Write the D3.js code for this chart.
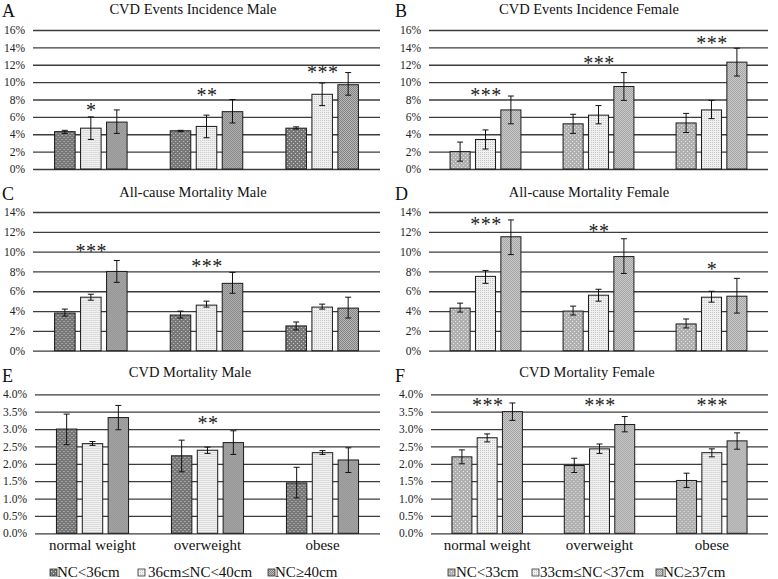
<!DOCTYPE html>
<html><head><meta charset="utf-8">
<script src="https://cdn.jsdelivr.net/npm/d3@7"></script>
<style>body{margin:0;background:#fff}svg{display:block}</style>
</head><body><svg id="c" width="778" height="579"></svg>
<script>
const categories = ["normal weight","overweight","obese"];
const maleGroups = ["NC<36cm","36cm≤NC<40cm","NC≥40cm"];
const femaleGroups = ["NC<33cm","33cm≤NC<37cm","NC≥37cm"];

const ticks16 = [0,2,4,6,8,10,12,14,16];
const ticks14 = [0,2,4,6,8,10,12,14];
const ticks4 = [0,0.5,1,1.5,2,2.5,3,3.5,4];

// A: CVD events incidence, male (rows = categories, cols = NC groups), %
const aValues = [[4.3,4.7,5.4],[4.4,4.9,6.6],[4.7,8.6,9.7]];
const aLow    = [[4.1,3.4,4.1],[4.3,3.6,5.3],[4.6,7.3,8.5]];
const aHigh   = [[4.45,6.0,6.8],[4.45,6.2,8.0],[4.85,9.9,11.1]];
const aStars  = ["*","**","***"];
const aStarAt = [7.1,8.8,11.4];

// B: CVD events incidence, female
const bValues = [[2.0,3.4,6.8],[5.2,6.2,9.5],[5.3,6.8,12.3]];
const bLow    = [[0.9,2.3,5.2],[4.1,5.2,7.9],[4.2,5.8,10.7]];
const bHigh   = [[3.1,4.5,8.4],[6.3,7.3,11.1],[6.4,7.9,13.9]];
const bStars  = ["***","***","***"];
const bStarAt = [8.8,12.5,14.8];

// C: all-cause mortality, male
const cValues = [[3.8,5.4,8.0],[3.6,4.6,6.8],[2.5,4.4,4.3]];
const cLow    = [[3.5,5.1,6.9],[3.3,4.4,5.8],[2.1,4.2,3.3]];
const cHigh   = [[4.2,5.7,9.1],[4.0,5.0,7.9],[2.9,4.7,5.4]];
const cStars  = ["***","***",""];
const cStarAt = [10.35,8.8,0];

// D: all-cause mortality, female
const dValues = [[4.3,7.5,11.5],[4.0,5.6,9.5],[2.7,5.4,5.5]];
const dLow    = [[3.9,6.8,9.7],[3.6,5.0,7.8],[2.3,4.9,3.8]];
const dHigh   = [[4.8,8.1,13.2],[4.5,6.2,11.3],[3.2,6.0,7.3]];
const dStars  = ["***","**","*"];
const dStarAt = [13.05,12.35,8.45];

// E: CVD mortality, male
const eValues = [[3.0,2.58,3.33],[2.23,2.39,2.61],[1.45,2.32,2.11]];
const eLow    = [[2.55,2.53,2.98],[1.77,2.30,2.27],[1.02,2.27,1.75]];
const eHigh   = [[3.43,2.64,3.68],[2.68,2.48,2.95],[1.90,2.38,2.46]];
const eStars  = ["","**",""];
const eStarAt = [0,3.26,0];

// F: CVD mortality, female
const fValues = [[2.2,2.75,3.5],[1.95,2.43,3.13],[1.52,2.32,2.66]];
const fLow    = [[2.0,2.63,3.25],[1.75,2.30,2.92],[1.32,2.20,2.42]];
const fHigh   = [[2.4,2.86,3.75],[2.16,2.57,3.36],[1.73,2.43,2.89]];
const fStars  = ["***","***","***"];
const fStarAt = [3.76,3.76,3.76];

const FONT = "'Liberation Serif', 'Times New Roman', Tinos, 'DejaVu Serif', serif";

const svg = d3.select("#c").attr("font-family", FONT);
const defs = svg.append("defs");
function tile(id, size, bg, dots, fg) {
  const p = defs.append("pattern").attr("id", id).attr("width", size).attr("height", size)
    .attr("patternUnits", "userSpaceOnUse");
  p.append("rect").attr("width", size).attr("height", size).attr("fill", bg);
  dots.forEach(([dx, dy]) => p.append("rect").attr("x", dx).attr("y", dy)
    .attr("width", 1).attr("height", 1).attr("fill", fg));
}
tile("m1", 4, "#767676", [[1,1],[3,3]], "#d0d0d0");
tile("m2", 2, "#f1f1f1", [[0,0]], "#c6c6c6");
tile("m3", 2, "#c0c0c0", [[0,0],[1,1]], "#7a7a7a");
tile("f1", 4, "#b0b0b0", [[1,1],[3,3]], "#e8e8e8");
tile("f2", 2, "#f1f1f1", [[0,0]], "#c6c6c6");
tile("f3", 2, "#d0d0d0", [[0,0],[1,1]], "#9e9e9e");

const fmtInt = v => d3.format(".0f")(v) + "%";
const fmtDec = v => d3.format(".1f")(v) + "%";

const panels = [
  {letter:"A", title:"CVD Events Incidence Male", v:aValues, lo:aLow, hi:aHigh, st:aStars, sa:aStarAt, ticks:ticks16, fmt:fmtInt, sex:"m",
   box:[33,380,30,169], tx:193, ty:14, lx:2, ly:17},
  {letter:"B", title:"CVD Events Incidence Female", v:bValues, lo:bLow, hi:bHigh, st:bStars, sa:bStarAt, ticks:ticks16, fmt:fmtInt, sex:"f",
   box:[429,768,30,169], tx:589, ty:14, lx:395, ly:17},
  {letter:"C", title:"All-cause Mortality Male", v:cValues, lo:cLow, hi:cHigh, st:cStars, sa:cStarAt, ticks:ticks14, fmt:fmtInt, sex:"m",
   box:[33,380,212,350.7], tx:193, ty:197, lx:2, ly:200},
  {letter:"D", title:"All-cause Mortality Female", v:dValues, lo:dLow, hi:dHigh, st:dStars, sa:dStarAt, ticks:ticks14, fmt:fmtInt, sex:"f",
   box:[429,768,212,350.7], tx:589, ty:197, lx:395, ly:200},
  {letter:"E", title:"CVD Mortality Male", v:eValues, lo:eLow, hi:eHigh, st:eStars, sa:eStarAt, ticks:ticks4, fmt:fmtDec, sex:"m",
   box:[35,380,394.3,533.3], tx:190, ty:377, lx:2, ly:382, cats:true},
  {letter:"F", title:"CVD Mortality Female", v:fValues, lo:fLow, hi:fHigh, st:fStars, sa:fStarAt, ticks:ticks4, fmt:fmtDec, sex:"f",
   box:[431,768,394.3,533.3], tx:587, ty:377, lx:395, ly:382, cats:true}
];

panels.forEach(p => {
  const [L, R, T, B] = p.box;
  const g = svg.append("g");
  const x0 = d3.scaleBand().domain(categories).range([L, R]).paddingInner(0.373).paddingOuter(0.1865);
  const x1 = d3.scaleBand().domain([0,1,2]).range([0, x0.bandwidth()]).paddingInner(0.21);
  const y = d3.scaleLinear().domain([0, d3.max(p.ticks)]).range([B, T]);

  g.append("text").attr("x", p.lx).attr("y", p.ly).attr("font-size", 18).attr("font-family", FONT)
    .attr("fill", "#111").text(p.letter);
  g.append("text").attr("x", p.tx).attr("y", p.ty).attr("text-anchor", "middle").attr("font-size", 14.5)
    .attr("font-family", FONT).attr("fill", "#111").text(p.title);

  const ax = g.append("g").attr("transform", `translate(${L},0)`)
    .call(d3.axisLeft(y).tickValues(p.ticks).tickFormat(p.fmt).tickSize(-(R - L)).tickPadding(8));
  ax.attr("font-family", FONT);
  ax.select(".domain").remove();
  ax.selectAll(".tick line").attr("stroke", "#3c3c3c").attr("stroke-width", 1.3);
  ax.selectAll(".tick text").attr("font-size", 11.5).attr("fill", "#222").attr("font-family", FONT);

  const pats = p.sex === "m" ? ["m1","m2","m3"] : ["f1","f2","f3"];
  categories.forEach((c, ci) => {
    const cg = g.append("g").attr("transform", `translate(${x0(c)},0)`);
    cg.selectAll("rect.bar").data(p.v[ci]).join("rect").attr("class", "bar")
      .attr("x", (d, i) => x1(i)).attr("width", x1.bandwidth())
      .attr("y", d => y(d)).attr("height", d => y(0) - y(d))
      .attr("fill", (d, i) => `url(#${pats[i]})`).attr("stroke", "#1a1a1a").attr("stroke-width", 1);
    p.v[ci].forEach((d, i) => {
      const cx = x1(i) + x1.bandwidth() / 2;
      const yl = y(p.lo[ci][i]), yh = y(p.hi[ci][i]);
      cg.append("line").attr("x1", cx).attr("x2", cx).attr("y1", yl).attr("y2", yh).attr("stroke", "#111");
      [yl, yh].forEach(yy => cg.append("line").attr("x1", cx - 3).attr("x2", cx + 3)
        .attr("y1", yy).attr("y2", yy).attr("stroke", "#111"));
    });
    if (p.st[ci]) {
      g.append("text").attr("x", x0(c) + x0.bandwidth() / 2 + 0.5).attr("y", y(p.sa[ci]) + 9.5)
        .attr("text-anchor", "middle").attr("font-size", 20).attr("letter-spacing", 0.5)
        .attr("font-family", FONT).attr("fill", "#222").text(p.st[ci]);
    }
  });

  if (p.cats) {
    const xa = g.append("g").attr("transform", `translate(0,${B})`)
      .call(d3.axisBottom(x0).tickSize(0).tickPadding(6));
    xa.attr("font-family", FONT);
    xa.select(".domain").remove();
    xa.selectAll(".tick text").attr("font-size", 15).attr("fill", "#111").attr("font-family", FONT);
  }
});

// legends
const legends = [
  {names: maleGroups, pats:["m1","m2","m3"], sq:[50,138,268], tx:[57,148,275]},
  {names: femaleGroups, pats:["f1","f2","f3"], sq:[448,532,656], tx:[456,540,663]}
];
legends.forEach(lg => {
  lg.names.forEach((n, i) => {
    svg.append("rect").attr("x", lg.sq[i]).attr("y", 569).attr("width", 7).attr("height", 7)
      .attr("fill", `url(#${lg.pats[i]})`).attr("stroke", "#333").attr("stroke-width", 0.8);
    svg.append("text").attr("x", lg.tx[i]).attr("y", 577).attr("font-size", 15)
      .attr("font-family", FONT).attr("fill", "#111").text(n);
  });
});
</script>
</body></html>
